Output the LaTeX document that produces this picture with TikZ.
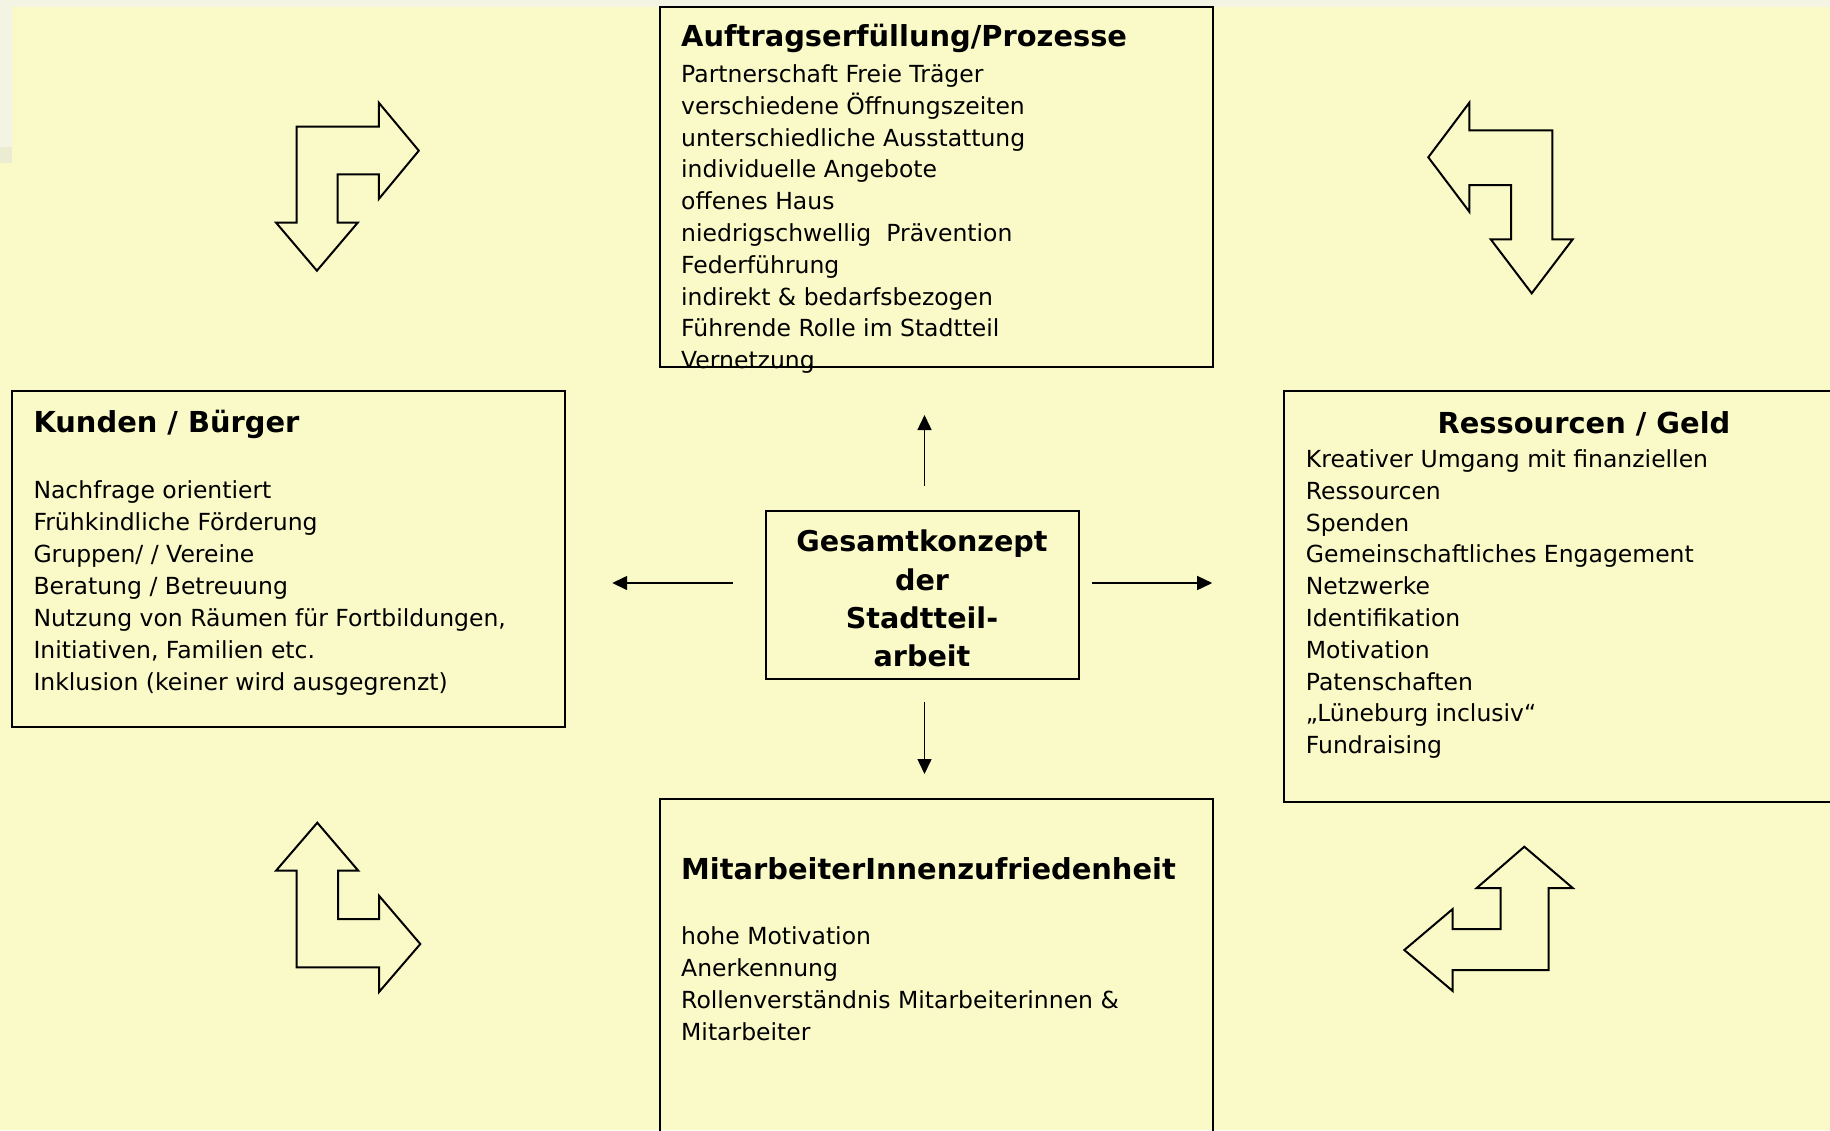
\documentclass[tikz,border=0pt]{standalone}
\usepackage{fontspec}
\setmainfont{DejaVu Sans}
\usetikzlibrary{arrows.meta}
\definecolor{bg}{RGB}{250,250,200}
\definecolor{stripc}{RGB}{244,244,228}
\definecolor{bandc}{RGB}{236,236,210}
\newcommand\mystrut{\rule{0pt}{1em}}
\tikzset{
  box/.style={draw=black, line width=2pt, rectangle, inner sep=0pt},
  bodytxt/.style={anchor=north west, inner sep=0pt, align=left, font=\fontsize{23.5}{31.8}\selectfont},
  ttl/.style={anchor=north west, inner sep=0pt, font=\fontsize{28.9}{34}\selectfont\bfseries},
  bent/.style={draw=black, line width=2pt, line join=miter},
  conn/.style={line width=1.5pt, -{Triangle[length=15pt,width=14pt]}}
}
\begin{document}
\begin{tikzpicture}[x=1pt,y=-1pt]
\useasboundingbox (0,0) rectangle (1830,1130);
\clip (0,0) rectangle (1830,1130);
\fill[bg] (0,0) rectangle (1830,1130);
\fill[stripc] (0,0) rectangle (1830,7);
\fill[stripc] (0,0) rectangle (12,147);
\fill[bandc] (0,147) rectangle (12,163);

% boxes
\node[box, minimum width=552.7pt, minimum height=360pt] (auftrag) at (936.65,186.7) {};
\node[box, minimum width=552.8pt, minimum height=335.7pt] (kunden) at (288.6,558.85) {};
\node[box, minimum width=599.7pt, minimum height=410.7pt] (ress) at (1584.15,596.35) {};
\node[box, minimum width=552.7pt, minimum height=391pt] (mitarb) at (936.65,994.5) {};
\node[box, minimum width=312.7pt, minimum height=168.3pt] (gesamt) at (922.35,594.85) {};

% top box text
\node[ttl] (auftragT) at (681,17.8) {\mystrut Auftragserfüllung/Prozesse};
\node[bodytxt] (auftragB) at (681,58.8) {\mystrut Partnerschaft Freie Träger\\
verschiedene Öffnungszeiten\\
unterschiedliche Ausstattung\\
individuelle Angebote\\
offenes Haus\\
niedrigschwellig\ \ Prävention\\
Federführung\\
indirekt \& bedarfsbezogen\\
Führende Rolle im Stadtteil\\
Vernetzung};

% left box text
\node[ttl] (kundenT) at (33.3,403.8) {\mystrut Kunden / Bürger};
\node[bodytxt, font=\fontsize{23.5}{32}\selectfont] (kundenB) at (33.3,474.8) {\mystrut Nachfrage orientiert\\
Frühkindliche Förderung\\
Gruppen/ / Vereine\\
Beratung / Betreuung\\
Nutzung von Räumen für Fortbildungen,\\
Initiativen, Familien etc.\\
Inklusion (keiner wird ausgegrenzt)};

% right box text
\node[ttl, anchor=north] (ressT) at (1584,404.4) {\mystrut Ressourcen / Geld};
\node[bodytxt] (ressB) at (1305.7,443.8) {\mystrut Kreativer Umgang mit finanziellen\\
Ressourcen\\
Spenden\\
Gemeinschaftliches Engagement\\
Netzwerke\\
Identifikation\\
Motivation\\
Patenschaften\\
„Lüneburg inclusiv“\\
Fundraising};

% bottom box text
\node[ttl] (mitarbT) at (681,850.4) {\mystrut MitarbeiterInnenzufriedenheit};
\node[bodytxt, font=\fontsize{23.5}{32}\selectfont] (mitarbB) at (681,920.8) {\mystrut hohe Motivation\\
Anerkennung\\
Rollenverständnis Mitarbeiterinnen \&\\
Mitarbeiter};

% center text
\node[anchor=north, inner sep=0pt, align=center, font=\fontsize{28.6}{38.3}\selectfont\bfseries] (gesamtT) at (922,523.1) {\mystrut Gesamtkonzept\\der\\Stadtteil-\\arbeit};

% connectors
\coordinate (upS) at (924.5,485.7);
\coordinate (upE) at (924.5,415);
\coordinate (lfS) at (732.7,583);
\coordinate (lfE) at (612.2,583);
\coordinate (rtS) at (1091.8,583);
\coordinate (rtE) at (1212.2,583);
\coordinate (dnS) at (924.5,702.3);
\coordinate (dnE) at (924.5,774);
\draw[conn] (upS) -- (upE);
\draw[conn] (lfS) -- (lfE);
\draw[conn] (rtS) -- (rtE);
\draw[conn] (dnS) -- (dnE);

% bent arrows
\draw[bent] (296.7,126.7) -- (378.8,126.7) -- (378.8,102.7) -- (418.8,150.7) -- (378.8,199) -- (378.8,174.3) -- (337.5,174.3) -- (337.5,222.7) -- (357.7,222.7) -- (316.9,270.7) -- (276.1,222.7) -- (296.7,222.7) -- cycle;
\draw[bent] (1428.3,157.3) -- (1469.3,102.7) -- (1469.3,130.3) -- (1552.3,130.3) -- (1552.3,239.3) -- (1572.7,239.3) -- (1531.7,293.3) -- (1490.7,239.3) -- (1511,239.3) -- (1511,185) -- (1469.3,185) -- (1469.3,211.7) -- cycle;
\draw[bent] (317.3,822.7) -- (358.3,870.7) -- (338,870.7) -- (338,919) -- (379,919) -- (379,895.7) -- (420.3,944) -- (379,992) -- (379,967.3) -- (296.7,967.3) -- (296.7,870.7) -- (276,870.7) -- cycle;
\draw[bent] (1524.3,846.7) -- (1572.7,888) -- (1548.7,888) -- (1548.7,970) -- (1452.7,970) -- (1452.7,991) -- (1404.3,950) -- (1452.7,909) -- (1452.7,929) -- (1500.7,929) -- (1500.7,888) -- (1476.7,888) -- cycle;
\end{tikzpicture}
\end{document}
